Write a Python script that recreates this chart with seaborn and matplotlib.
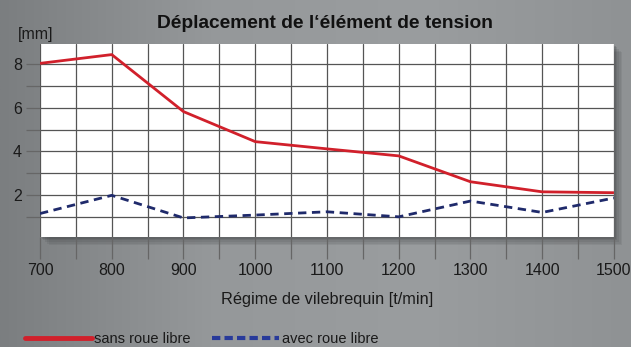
import numpy as np
import pandas as pd
import matplotlib
matplotlib.use("Agg")
import matplotlib.pyplot as plt
import seaborn as sns
from matplotlib.patches import Rectangle
from matplotlib.ticker import MultipleLocator
from matplotlib.lines import Line2D

rpm = [700, 800, 900, 1000, 1100, 1200, 1300, 1400, 1500]
sans_roue_libre = [8.02, 8.42, 5.82, 4.45, 4.12, 3.80, 2.62, 2.16, 2.12]
avec_roue_libre = [1.17, 2.00, 0.97, 1.10, 1.25, 1.02, 1.74, 1.22, 1.88]
series_names = ["sans roue libre", "avec roue libre"]
x_ticks = [700, 800, 900, 1000, 1100, 1200, 1300, 1400, 1500]
y_ticks = [2, 4, 6, 8]

df = pd.concat([
    pd.DataFrame({"rpm": rpm, "val": sans_roue_libre, "serie": series_names[0]}),
    pd.DataFrame({"rpm": rpm, "val": avec_roue_libre, "serie": series_names[1]}),
])

sns.set_theme(style="white")
plt.rcParams['font.family'] = ['Liberation Sans', 'DejaVu Sans']

fig = plt.figure(figsize=(6.31, 3.47), dpi=100)
fig.patch.set_facecolor('#8c8f91')

# background gradient (darker left, lighter right)
grad = np.linspace(0, 1, 256)
bg = np.vstack([grad] * 2)
bgax = fig.add_axes([0, 0, 1, 1], zorder=-10)
bgax.imshow(bg, aspect='auto', cmap=matplotlib.colors.LinearSegmentedColormap.from_list(
    'g', ['#7b7e80', '#95989a', '#9a9d9f', '#8f9294']), extent=[0, 1, 0, 1])
bgax.set_axis_off()

L, B, W, H = 0.0634, 0.317, 0.9096, 0.556
# shadow
for i, a in enumerate([0.10, 0.10, 0.12, 0.15, 0.2]):
    off = (5 - i) * 0.003
    fig.patches.append(Rectangle((L + off * 0.9, B - off * 1.6), W, H, transform=fig.transFigure,
                                 facecolor='#3a3c3e', alpha=a, edgecolor='none', zorder=-5))

ax = fig.add_axes([L, B, W, H])
ax.set_facecolor('white')

palette = {series_names[0]: '#d1202b', series_names[1]: '#1f2a6b'}
sns.lineplot(data=df, x="rpm", y="val", hue="serie", style="serie",
             palette=palette, dashes={series_names[0]: (1, 0), series_names[1]: (3, 2)},
             linewidth=2.0, ax=ax, legend=False, zorder=5)

ax.set_xlim(700, 1500)
ax.set_ylim(0.1, 8.9)
ax.set_xticks(x_ticks)
ax.set_xticklabels([str(t) for t in x_ticks])
ax.xaxis.set_minor_locator(MultipleLocator(50))
ax.set_yticks(y_ticks)
ax.set_yticklabels([str(t) for t in y_ticks])
ax.yaxis.set_minor_locator(MultipleLocator(1))

ax.grid(which='both', color='#555555', linewidth=0.9)
ax.set_axisbelow(True)
for s in ax.spines.values():
    s.set_visible(False)

ax.tick_params(axis='x', which='both', length=16, width=0.9, color='#666666',
               labelsize=11.5, labelcolor='#1a1a1a', pad=3, bottom=True)
ax.tick_params(axis='y', which='both', length=10, width=0.9, color='#666666',
               labelsize=11.5, labelcolor='#1a1a1a', pad=3, left=True)

ax.set_xlabel("Régime de vilebrequin [t/min]", fontsize=11.8, color='#1a1a1a', labelpad=10)
ax.set_ylabel("")

fig.text(0.515, 0.933, "Déplacement de l‘élément de tension", ha='center', va='center',
         fontsize=13.8, fontweight='bold', color='#111111')
fig.text(0.028, 0.902, "[mm]", ha='left', va='center', fontsize=11.5, color='#1a1a1a')

handles = [Line2D([], [], color='#d1202b', linewidth=3.5),
           Line2D([], [], color='#283a9a', linewidth=3, linestyle=(0, (2, 1)))]
fig.legend(handles, series_names, loc='center left', bbox_to_anchor=(0.03, 0.022),
           ncol=2, frameon=False, fontsize=10.5, handlelength=4.6, handletextpad=0.15,
           columnspacing=1.5, borderaxespad=0, labelcolor='#1a1a1a')

fig.savefig("out.png", dpi=100, facecolor=fig.get_facecolor())
